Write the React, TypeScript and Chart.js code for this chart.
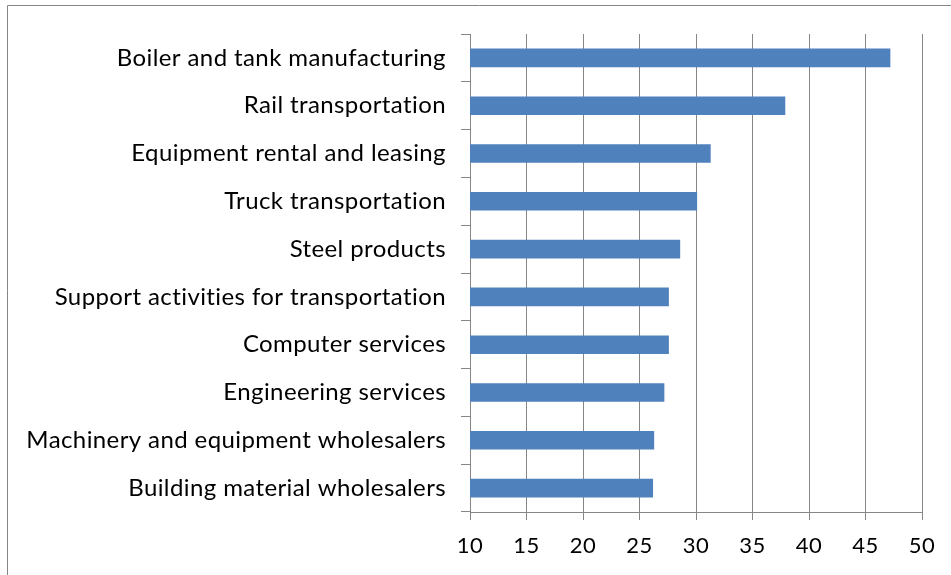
import React, { useEffect, useRef } from "react";
import { Chart, registerables } from "chart.js";

Chart.register(...registerables);

const categories = [
  "Boiler and tank manufacturing",
  "Rail transportation",
  "Equipment rental and leasing",
  "Truck transportation",
  "Steel products",
  "Support activities for transportation",
  "Computer services",
  "Engineering services",
  "Machinery and equipment wholesalers",
  "Building material wholesalers",
];

const values = [47.2, 37.9, 31.3, 30.1, 28.6, 27.6, 27.6, 27.2, 26.3, 26.2];

const xMin = 10;
const xMax = 50;
const xStep = 5;

const FONT = "Lato, 'Open Sans', sans-serif";

export default function App() {
  const ref = useRef<HTMLCanvasElement | null>(null);

  useEffect(() => {
    if (!ref.current) return;
    const frame = {
      id: "frame",
      beforeDraw(chart: any) {
        const ctx = chart.ctx;
        ctx.save();
        ctx.fillStyle = "#ffffff";
        ctx.fillRect(0, 0, chart.width, chart.height);
        ctx.strokeStyle = "#868686";
        ctx.lineWidth = 1;
        ctx.beginPath();
        ctx.moveTo(7.5, chart.height);
        ctx.lineTo(7.5, 5.5);
        ctx.lineTo(chart.width, 5.5);
        ctx.stroke();
        ctx.restore();
        try {
          (ctx as any).letterSpacing = "0.4px";
        } catch (e) {}
      },
    };
    const chart = new Chart(ref.current, {
      type: "bar",
      data: {
        labels: categories,
        datasets: [
          {
            data: values,
            backgroundColor: "#4F81BD",
            borderColor: "#8EADD6",
            borderWidth: 0,
            categoryPercentage: 0.39,
            barPercentage: 1,
          },
        ],
      },
      options: {
        indexAxis: "y",
        animation: false,
        responsive: false,
        maintainAspectRatio: false,
        layout: { padding: { top: 34, right: 29, left: 0, bottom: 0 } },
        plugins: {
          legend: { display: false },
          tooltip: { enabled: false },
        },
        scales: {
          x: {
            min: xMin,
            max: xMax,
            ticks: {
              stepSize: xStep,
              color: "#000",
              font: { family: FONT, size: 22 },
              padding: 13,
            },
            grid: {
              color: "#868686",
              lineWidth: 1,
              tickLength: 8,
              drawTicks: true,
            },
            border: { color: "#868686", width: 1 },
            afterFit(scale: any) {
              scale.height = 63;
            },
          },
          y: {
            ticks: {
              color: "#000",
              font: { family: FONT, size: 24 },
              padding: 15,
              autoSkip: false,
            },
            grid: {
              offset: true,
              drawOnChartArea: false,
              color: "#868686",
              tickLength: 9,
            },
            border: { color: "#868686", width: 1 },
            afterFit(scale: any) {
              scale.width = 470;
            },
          },
        },
      },
      plugins: [frame],
    });
    return () => chart.destroy();
  }, []);

  return (
    <div style={{ position: "fixed", left: 0, top: 0, width: 951, height: 575, background: "#fff" }}>
      <canvas ref={ref} width={951} height={575} style={{ display: "block" }} />
    </div>
  );
}
